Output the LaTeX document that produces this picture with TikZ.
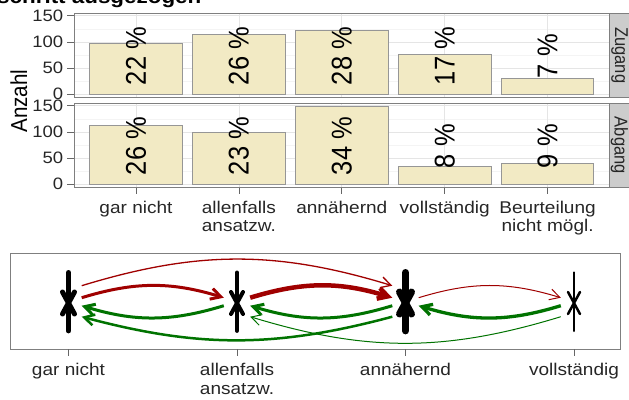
\documentclass[tikz,border=0pt]{standalone}
\usepackage{fontspec}
\setmainfont{Liberation Sans}
\usetikzlibrary{arrows.meta}
\definecolor{barfill}{RGB}{242,234,196}
\definecolor{barline}{RGB}{150,150,150}
\definecolor{gridmaj}{RGB}{229,229,229}
\definecolor{gridmin}{RGB}{244,244,244}
\definecolor{panelline}{RGB}{127,127,127}
\definecolor{stripfill}{RGB}{204,204,204}
\definecolor{upred}{RGB}{160,0,0}
\definecolor{downgreen}{RGB}{0,115,0}
\begin{document}
\begin{tikzpicture}[x=1pt,y=-1pt,
	axistext/.style={font=\fontsize{16.5}{18}\selectfont,text=black!85,inner sep=0pt,xscale=1.12},
	cattext/.style={font=\fontsize{17}{18.3}\selectfont,text=black!85,inner sep=0pt,align=center,anchor=north,xscale=1.12},
	pcttext/.style={font=\fontsize{25.5}{28}\selectfont,inner sep=0pt,xscale=1.12,rotate=90},
	striptext/.style={font=\fontsize{16.5}{18}\selectfont,text=black!85,inner sep=0pt,xscale=1.12,rotate=-90},
	barrect/.style={draw=barline,fill=barfill,line width=0.9pt},
	majgrid/.style={draw=gridmaj,line width=0.8pt},
	mingrid/.style={draw=gridmin,line width=0.5pt},
	panelframe/.style={draw=panelline,line width=0.8pt},
	axtick/.style={draw=black!60,line width=0.8pt},
	mkbox/.style={minimum width=26pt,minimum height=58pt,inner sep=0pt},
	fwd/.style={draw=upred,-{Straight Barb[length=10pt,width=11pt]}},
	bwd/.style={draw=downgreen,-{Straight Barb[length=10pt,width=11pt]}}]
	\useasboundingbox (0,0) rectangle (629,399);
	\node[font=\bfseries\fontsize{20}{22}\selectfont,xscale=1.12,anchor=base west,inner sep=0pt] (ttl) at (-3,3) {schritt ausgezogen};
	\foreach \T/\O/\S in {13/94.3/Zugang,103/184.3/Abgang}
	{
		\fill[white] (74,\T) rectangle (609.5,\T+84.7);
		\foreach \v in {25,75,125}
			\draw[mingrid] (74,\O-0.5233*\v) -- (609.5,\O-0.5233*\v);
		\foreach \v in {0,50,100,150}
			\draw[majgrid] (74,\O-0.5233*\v) -- (609.5,\O-0.5233*\v);
		\foreach \X in {136,238.9,341.8,444.7,547.6}
			\draw[majgrid] (\X,\T) -- (\X,\T+84.7);
		\foreach \v [count=\Z] in {0,50,100,150}
		{
			\draw[axtick] (67,\O-0.5233*\v) -- (74,\O-0.5233*\v);
			\node[axistext,anchor=east] (y\S\Z) at (63.5,\O-0.5233*\v) {\v};
		}
		\draw[fill=stripfill,draw=panelline,line width=0.8pt] (609.5,\T) rectangle (633,\T+84.7);
		\node[striptext] (s\S) at (619.5,\T+42.3) {\S};
	}
	\foreach \X/\V/\P [count=\Z] in {136/97/22,238.9/114/26,341.8/122/28,444.7/76/17,547.6/31/7}
	{
		\draw[barrect] (\X-46.3,94.3) rectangle (\X+46.3,94.3-0.5233*\V);
		\node[pcttext] (zp\Z) at (\X,56.1) {\P{} \%};
	}
	\foreach \X/\V/\P [count=\Z] in {136/113/26,238.9/100/23,341.8/148/34,444.7/35/8,547.6/39/9}
	{
		\draw[barrect] (\X-46.3,184.3) rectangle (\X+46.3,184.3-0.5233*\V);
		\node[pcttext] (ap\Z) at (\X,146.1) {\P{} \%};
	}
	\draw[panelframe] (74,13) rectangle (609.5,97.7);
	\draw[panelframe] (74,103) rectangle (609.5,187.7);
	\foreach \X/\L [count=\Z] in {136/gar nicht,238.9/{allenfalls\\ansatzw.},341.8/annähernd,444.7/vollständig,547.6/{Beurteilung\\nicht mögl.}}
	{
		\draw[axtick] (\X,187.7) -- (\X,193.5);
		\node[cattext] (c\Z) at (\X,201) {\L};
	}
	\node[font=\fontsize{20.6}{22}\selectfont,inner sep=0pt,xscale=1.12,rotate=90] (ylab) at (19,101) {Anzahl};

	\draw[panelframe,fill=white] (10,253.3) rectangle (620,349.3);
	\foreach \X/\W/\L [count=\Z] in {68.5/5/gar nicht,237/4/{allenfalls\\ansatzw.},405.5/7/annähernd,574/2.5/vollständig}
	{
		\node[mkbox] (m\Z) at (\X,301.7) {};
		\draw[line width=\W pt,line cap=round] (m\Z.north) -- (m\Z.south);
		\draw[line width=\W pt,line cap=round] (\X-6,292) -- (\X+6,314) (\X-6,314) -- (\X+6,292);
		\draw[axtick] (\X,349.3) -- (\X,355.5);
		\node[cattext] (b\Z) at (\X,363.3) {\L};
	}
	\draw[fwd,line width=1.3pt] ([yshift=16pt]m1.east) to[bend left=17] ([yshift=16pt]m3.west);
	\draw[fwd,line width=3pt] ([yshift=4pt]m1.east) to[bend left=17] ([yshift=4pt]m2.west);
	\draw[fwd,line width=4.5pt] ([yshift=4pt]m2.east) to[bend left=17] ([yshift=4pt]m3.west);
	\draw[fwd,line width=1pt] ([yshift=4pt]m3.east) to[bend left=17] ([yshift=4pt]m4.west);
	\draw[bwd,line width=3pt] ([yshift=-4pt]m2.west) to[bend left=17] ([yshift=-4pt]m1.east);
	\draw[bwd,line width=2.5pt] ([yshift=-15pt]m3.west) to[bend left=15] ([yshift=-15pt]m1.east);
	\draw[bwd,line width=3pt] ([yshift=-4pt]m3.west) to[bend left=17] ([yshift=-4pt]m2.east);
	\draw[bwd,line width=1pt] ([yshift=-15pt]m4.west) to[bend left=17] ([yshift=-15pt]m2.east);
	\draw[bwd,line width=3.3pt] ([yshift=-4pt]m4.west) to[bend left=17] ([yshift=-4pt]m3.east);
\end{tikzpicture}
\end{document}
